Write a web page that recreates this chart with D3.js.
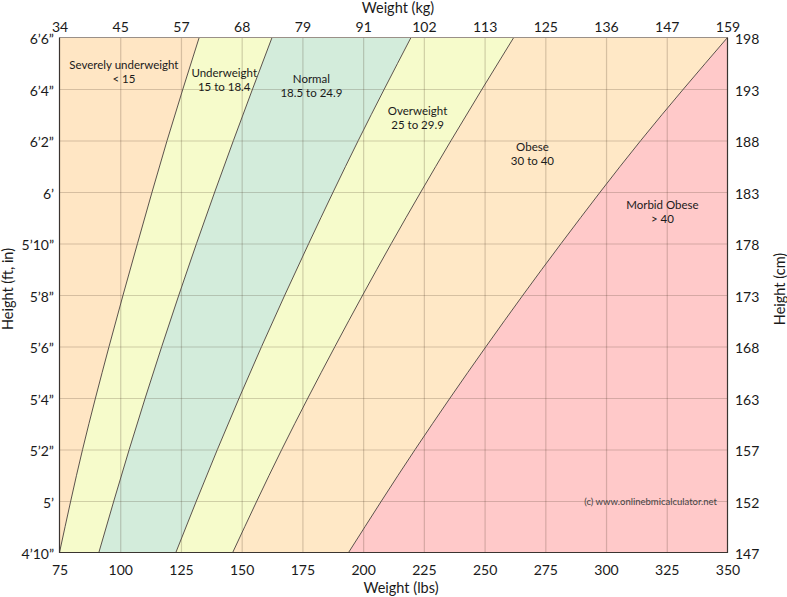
<!DOCTYPE html>
<html>
<head>
<meta charset="utf-8">
<script src="https://cdn.jsdelivr.net/npm/d3@7"></script>
<style>
  body { margin: 0; background: #fff; }
  text { font-family: Lato, "Open Sans", sans-serif; fill: #1a1a1a; }
</style>
</head>
<body>
<div class="svg-container"></div>
<script>
const heightsIn = [58, 62, 66, 70, 74, 78];

// weight (lbs) of each BMI boundary at those heights
const bmi15 = [75, 84.5, 95.4, 107.1, 119.3, 132.5];
const bmi185 = [91.2, 103.7, 117.1, 131.4, 146.6, 162.5];
const bmi25 = [122.9, 140.0, 158.2, 177.6, 198.0, 219.7];
const bmi30 = [146.3, 166.5, 188.4, 211.6, 236.2, 262.0];
const bmi40 = [194.0, 221.4, 250.6, 281.5, 314.3, 350.0];

// axis ticks
const lbsTicks = [75, 100, 125, 150, 175, 200, 225, 250, 275, 300, 325, 350];
const kgLabels = ['34', '45', '57', '68', '79', '91', '102', '113', '125', '136', '147', '159'];
const inchTicks = [58, 60, 62, 64, 66, 68, 70, 72, 74, 76, 78];
const ftLabels = ['4’10”', '5’', '5’2”', '5’4”', '5’6”', '5’8”', '5’10”', '6’', '6’2”', '6’4”', '6’6”'];
const cmLabels = ['147', '152', '157', '163', '168', '173', '178', '183', '188', '193', '198'];

// categories
const bandNames = ['Severely underweight', 'Underweight', 'Normal', 'Overweight', 'Obese', 'Morbid Obese'];
const bandRanges = ['< 15', '15 to 18.4', '18.5 to 24.9', '25 to 29.9', '30 to 40', '> 40'];

function renderChart() {
  const width = 787;
  const height = 597;
  const plot = { left: 59.5, right: 727.5, top: 37.5, bottom: 552.5 };

  const colours = ['#ffe6c4', '#f6fbcb', '#d3ecdb', '#f6fbcb', '#ffe8c6', '#ffc9c9'];

  // where each label sits, in chart units (lbs, inches)
  const labelSpots = [[101.5, 76.95], [142.8, 76.64], [178.7, 76.37], [222.4, 75.13], [269.7, 73.73], [323.2, 71.48]];

  const x = d3.scaleLinear().domain([75, 350]).range([plot.left, plot.right]);
  const y = d3.scaleLinear().domain([58, 78]).range([plot.bottom, plot.top]);

  const svg = d3.select('.svg-container')
    .append('svg')
    .attr('width', width)
    .attr('height', height);

  svg.append('clipPath')
    .attr('id', 'plot-clip')
    .append('rect')
    .attr('x', plot.left)
    .attr('y', plot.top)
    .attr('width', plot.right - plot.left)
    .attr('height', plot.bottom - plot.top);

  // rows of boundary weights per height
  const rows = heightsIn.map((h, i) => ({
    h: h,
    b: [75, bmi15[i], bmi185[i], bmi25[i], bmi30[i], bmi40[i], 350]
  }));

  const plotG = svg.append('g').attr('clip-path', 'url(#plot-clip)');

  // filled bands
  bandNames.forEach((name, k) => {
    const area = d3.area()
      .curve(d3.curveMonotoneY)
      .y(d => y(d.h))
      .x0(d => x(d.b[k]))
      .x1(d => x(d.b[k + 1]));

    plotG.append('path')
      .datum(rows)
      .attr('d', area)
      .attr('fill', colours[k]);
  });

  // grid
  const gridX = d3.axisBottom(x)
    .tickValues(lbsTicks.slice(1, -1))
    .tickSize(-(plot.bottom - plot.top))
    .tickFormat('');
  const gx = plotG.append('g')
    .attr('transform', `translate(0,${plot.bottom})`)
    .call(gridX);
  gx.select('.domain').remove();
  gx.selectAll('line').attr('stroke', 'rgba(70,50,30,0.22)').attr('stroke-width', 1.2);

  const gridY = d3.axisLeft(y)
    .tickValues(inchTicks.slice(1, -1))
    .tickSize(-(plot.right - plot.left))
    .tickFormat('');
  const gy = plotG.append('g')
    .attr('transform', `translate(${plot.left},0)`)
    .call(gridY);
  gy.select('.domain').remove();
  gy.selectAll('line').attr('stroke', 'rgba(70,50,30,0.22)').attr('stroke-width', 1.2);

  // boundary lines
  [1, 2, 3, 4, 5].forEach(k => {
    const line = d3.line()
      .curve(d3.curveMonotoneY)
      .y(d => y(d.h))
      .x(d => x(d.b[k]));

    plotG.append('path')
      .datum(rows)
      .attr('d', line)
      .attr('fill', 'none')
      .attr('stroke', '#5b524a')
      .attr('stroke-width', 1);
  });

  // frame
  svg.append('line')
    .attr('x1', plot.left).attr('x2', plot.right)
    .attr('y1', plot.top).attr('y2', plot.top)
    .attr('stroke', '#9a9088');
  svg.append('path')
    .attr('d', `M${plot.left},${plot.top}V${plot.bottom}H${plot.right}V${plot.top}`)
    .attr('fill', 'none')
    .attr('stroke', '#3a3430')
    .attr('stroke-width', 1.2);

  // band labels
  const labels = svg.append('g')
    .attr('text-anchor', 'middle')
    .style('font-size', '11.5px');

  bandNames.forEach((name, k) => {
    const t = labels.append('text')
      .attr('x', x(labelSpots[k][0]))
      .attr('y', y(labelSpots[k][1]) + 4);
    t.append('tspan').attr('x', x(labelSpots[k][0])).text(name);
    t.append('tspan').attr('x', x(labelSpots[k][0])).attr('dy', 14).text(bandRanges[k]);
  });

  svg.append('text')
    .attr('x', 717)
    .attr('y', 505)
    .attr('text-anchor', 'end')
    .style('font-size', '9.5px')
    .style('fill', '#444')
    .text('(c) www.onlinebmicalculator.net');

  // axes
  function styleAxis(g) {
    g.select('.domain').remove();
    g.selectAll('line').remove();
    g.selectAll('text')
      .style('font-size', '14px')
      .attr('fill', '#1a1a1a')
      .style('font-family', 'Lato, "Open Sans", sans-serif');
  }

  svg.append('g')
    .attr('transform', `translate(0,${plot.bottom})`)
    .call(d3.axisBottom(x).tickValues(lbsTicks).tickSize(0).tickPadding(13).tickFormat(d3.format('d')))
    .call(styleAxis);

  svg.append('g')
    .attr('transform', `translate(0,${plot.top})`)
    .call(d3.axisTop(x).tickValues(lbsTicks).tickSize(0).tickPadding(5.5).tickFormat((d, i) => kgLabels[i]))
    .call(styleAxis);

  svg.append('g')
    .attr('transform', `translate(${plot.left},0)`)
    .call(d3.axisLeft(y).tickValues(inchTicks).tickSize(0).tickPadding(5.5).tickFormat((d, i) => ftLabels[i]))
    .call(styleAxis)
    .selectAll('text').attr('dy', '0.45em');

  svg.append('g')
    .attr('transform', `translate(${plot.right},0)`)
    .call(d3.axisRight(y).tickValues(inchTicks).tickSize(0).tickPadding(7.5).tickFormat((d, i) => cmLabels[i]))
    .call(styleAxis)
    .selectAll('text').attr('dy', '0.45em');

  // axis titles
  svg.append('text')
    .attr('x', 398).attr('y', 13)
    .attr('text-anchor', 'middle')
    .style('font-size', '14.5px')
    .text('Weight (kg)');

  svg.append('text')
    .attr('x', 401).attr('y', 593)
    .attr('text-anchor', 'middle')
    .style('font-size', '14.5px')
    .text('Weight (lbs)');

  svg.append('text')
    .attr('transform', 'translate(13,289) rotate(-90)')
    .attr('text-anchor', 'middle')
    .style('font-size', '14.5px')
    .text('Height (ft, in)');

  svg.append('text')
    .attr('transform', 'translate(785,289) rotate(-90)')
    .attr('text-anchor', 'middle')
    .style('font-size', '14.5px')
    .text('Height (cm)');
}

renderChart();
</script>
</body>
</html>
